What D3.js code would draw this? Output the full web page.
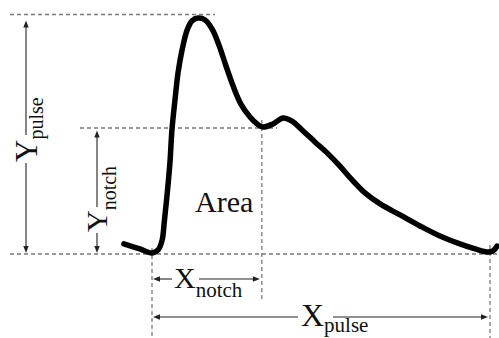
<!DOCTYPE html>
<html>
<head>
<meta charset="utf-8">
<script src="https://cdn.jsdelivr.net/npm/d3@7/dist/d3.min.js"></script>
<style>
  html, body { margin: 0; padding: 0; background: #fff; }
  svg { display: block; }
  text { font-family: "Liberation Serif", "DejaVu Serif", serif; fill: #111; }
</style>
</head>
<body>
<div id="chart"></div>
<script>
// Pulse waveform (normalized time, normalized amplitude)
const pulseTime = [-0.083, -0.036, 0.000, 0.018, 0.030, 0.036, 0.044, 0.053, 0.059, 0.068, 0.077, 0.089, 0.104, 0.118, 0.136, 0.157, 0.178, 0.198, 0.219, 0.240, 0.263, 0.290, 0.311, 0.328, 0.358, 0.388, 0.414, 0.444, 0.482, 0.521, 0.556, 0.592, 0.630, 0.675, 0.734, 0.793, 0.852, 0.911, 0.956, 0.994, 1.009, 1.021];
const pulseAmp  = [0.042, 0.021, 0.004, 0.017, 0.058, 0.129, 0.238, 0.380, 0.518, 0.643, 0.756, 0.852, 0.935, 0.973, 0.985, 0.977, 0.939, 0.873, 0.785, 0.701, 0.626, 0.572, 0.543, 0.530, 0.543, 0.568, 0.555, 0.518, 0.468, 0.418, 0.367, 0.309, 0.255, 0.209, 0.163, 0.117, 0.075, 0.042, 0.021, 0.008, 0.013, 0.033];

// Feature markers
const onsetTime = 0;
const endTime = 1;
const notchTime = 0.325;
const peakAmp = 1;
const notchAmp = 0.526;
const baseAmp = 0;

// Labels
const labelMain = ["Y", "Y", "X", "X"];
const labelSub = ["pulse", "notch", "notch", "pulse"];
const areaLabel = "Area";

const W = 499, H = 338;
const svg = d3.select("#chart").append("svg").attr("width", W).attr("height", H);

const x = d3.scaleLinear().domain([onsetTime, endTime]).range([152, 490]);
const y = d3.scaleLinear().domain([baseAmp, peakAmp]).range([254, 14.5]);

const dashColor = "#7a7a7a";
function dashed(x1, y1, x2, y2) {
  svg.append("line").attr("x1", x1).attr("y1", y1).attr("x2", x2).attr("y2", y2)
    .attr("stroke", dashColor).attr("stroke-width", 1.3).attr("stroke-dasharray", "4,3");
}

// reference lines
dashed(10, y(peakAmp), 215, y(peakAmp));
dashed(80, y(notchAmp), 277, y(notchAmp));
dashed(10, y(baseAmp), W, y(baseAmp));
dashed(x(onsetTime), 248, x(onsetTime), H);
dashed(x(notchTime), 120, x(notchTime), 300);
dashed(x(endTime), 245, x(endTime), H);

// arrows
const arrowColor = "#222";
function head(px, py, dir) {
  const L = 7, w = 2.7;
  let p;
  if (dir === "up") p = [[px, py], [px - w, py + L], [px + w, py + L]];
  if (dir === "down") p = [[px, py], [px - w, py - L], [px + w, py - L]];
  if (dir === "left") p = [[px, py], [px + L, py - w], [px + L, py + w]];
  if (dir === "right") p = [[px, py], [px - L, py - w], [px - L, py + w]];
  svg.append("path").attr("d", d3.line()(p) + "Z").attr("fill", arrowColor);
}
function seg(x1, y1, x2, y2) {
  svg.append("line").attr("x1", x1).attr("y1", y1).attr("x2", x2).attr("y2", y2)
    .attr("stroke", arrowColor).attr("stroke-width", 1.1);
}
function vArrow(ax, top, bottom, g1, g2) {
  seg(ax, top + 3, ax, g1); seg(ax, g2, ax, bottom - 3);
  head(ax, top, "up"); head(ax, bottom, "down");
}
function hArrow(ay, left, right, g1, g2) {
  seg(left + 3, ay, g1, ay); seg(g2, ay, right - 3, ay);
  head(left, ay, "left"); head(right, ay, "right");
}

vArrow(26, y(peakAmp) + 6, y(baseAmp) - 1, 135, 163);
vArrow(97, y(notchAmp) + 2.5, y(baseAmp) - 1, 207, 233);
hArrow(279, x(onsetTime) + 1, x(notchTime) - 2, 172, 199);
hArrow(317, x(onsetTime) + 1, x(endTime) - 2, 298, 333);

// labels
function label(tx, ty, rot, main, sub, mainSize, subSize, dy) {
  const t = svg.append("text")
    .attr("transform", `translate(${tx},${ty}) rotate(${rot})`);
  t.append("tspan").attr("font-size", mainSize).text(main);
  t.append("tspan").attr("font-size", subSize).attr("dy", dy).text(sub);
}
label(37, 162, -90, labelMain[0], labelSub[0], 31, 20, 6);
label(107, 232, -90, labelMain[1], labelSub[1], 30, 20, 9);
label(174, 288, 0, labelMain[2], labelSub[2], 30, 21, 9);
label(301, 326, 0, labelMain[3], labelSub[3], 32, 21, 6);

svg.append("text").attr("x", 195).attr("y", 212).attr("font-size", 30).text(areaLabel);

// waveform
const pts = pulseTime.map((t, i) => [t, pulseAmp[i]]);
svg.append("path")
  .datum(pts)
  .attr("fill", "none")
  .attr("stroke", "#000")
  .attr("stroke-width", 5.5)
  .attr("stroke-linecap", "round")
  .attr("stroke-linejoin", "round")
  .attr("d", d3.line().x(d => x(d[0])).y(d => y(d[1])).curve(d3.curveCatmullRom.alpha(0.5)));
</script>
</body>
</html>
